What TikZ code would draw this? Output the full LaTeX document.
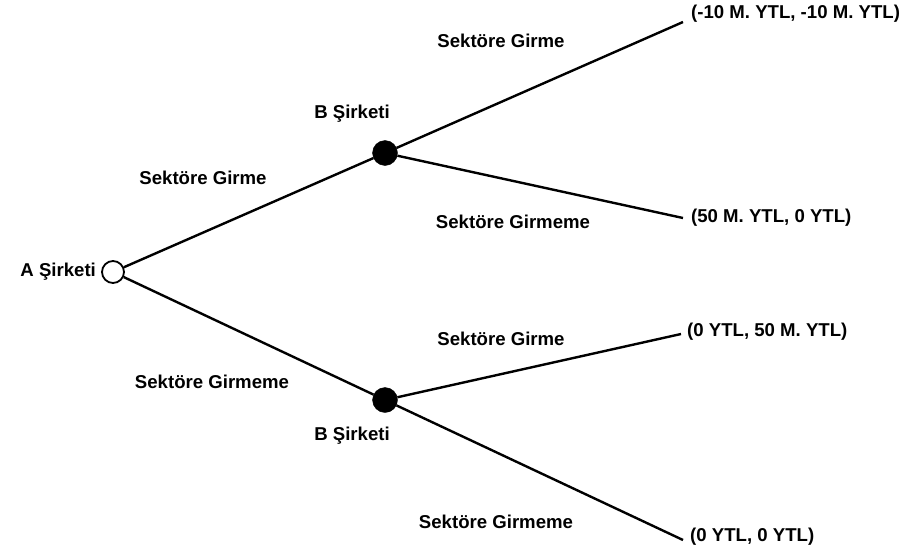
\documentclass[tikz,border=0pt]{standalone}
\usepackage{fontspec}
\setmainfont{Liberation Sans}
\usetikzlibrary{positioning}
\tikzstyle{firm}=[circle,draw,line width=1.8pt,fill=white,minimum size=22pt,inner sep=0pt]
\tikzstyle{firmb}=[circle,draw,fill=black,minimum size=25pt,inner sep=0pt]
\tikzstyle{lbl}=[font=\fontsize{18.6}{21}\selectfont\bfseries,inner sep=1pt]
\tikzstyle{pay}=[lbl,anchor=west]
\tikzstyle{br}=[line width=2.4pt]

\begin{document}
\begin{tikzpicture}[x=1pt,y=-1pt]
\useasboundingbox (0,0) rectangle (909,554);
% decision nodes
\node[firm] (A) at (113,272) {};
\node[firmb] (B1) at (385,153) {};
\node[firmb] (B2) at (385,400) {};
\node[lbl, left=4pt of A] (la) {A Şirketi};
\node[lbl] (lb1) at (352,114) {B Şirketi};
\node[lbl] (lb2) at (352,436) {B Şirketi};
% end points and payoffs
\coordinate (E1) at (683,22);
\coordinate (E2) at (683,218);
\coordinate (E3) at (681,334);
\coordinate (E4) at (683,540);
\node[pay] (p1) at (690,14) {(-10 M. YTL, -10 M. YTL)};
\node[pay] (p2) at (690,218) {(50 M. YTL, 0 YTL)};
\node[pay] (p3) at (686,332) {(0 YTL, 50 M. YTL)};
\node[pay] (p4) at (689,537) {(0 YTL, 0 YTL)};
% branches
\draw[br] (A) -- (B1);
\draw[br] (A) -- (B2);
\draw[br] (B1) -- (E1);
\draw[br] (B1) -- (E2);
\draw[br] (B2) -- (E3);
\draw[br] (B2) -- (E4);
% moves
\node[lbl] (m1) at (203,178) {Sektöre Girme};
\node[lbl] (m2) at (212,382) {Sektöre Girmeme};
\node[lbl] (m3) at (501,41) {Sektöre Girme};
\node[lbl] (m4) at (513,222) {Sektöre Girmeme};
\node[lbl] (m5) at (501,339) {Sektöre Girme};
\node[lbl] (m6) at (496,522) {Sektöre Girmeme};
\end{tikzpicture}
\end{document}
